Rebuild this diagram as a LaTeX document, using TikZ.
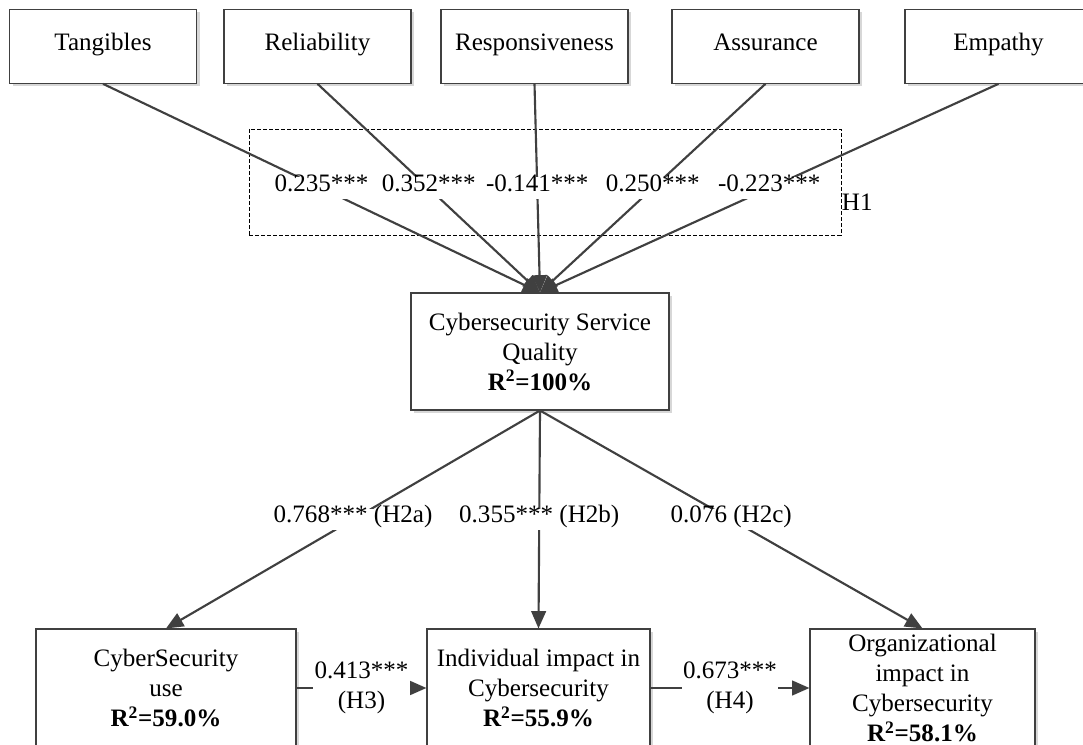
\documentclass[tikz,border=0pt]{standalone}
\usepackage{fontspec}
\setmainfont{Liberation Serif}
\usetikzlibrary{arrows.meta}

\definecolor{linegray}{RGB}{64,64,64}
\definecolor{shadowgray}{RGB}{215,215,215}

\tikzset{every picture/.style={line width=0.75pt}}
\tikzset{
  factor/.style={draw=linegray, fill=white, line width=0.8pt, align=center, inner sep=2pt,
    preaction={draw=none, fill=shadowgray, transform canvas={xshift=2.25pt, yshift=-2.25pt}}},
  dimbox/.style={factor, minimum width=140.25pt, minimum height=55.5pt, text height=0.8em, text depth=0.2em},
  outcome/.style={factor, minimum height=88.5pt},
  link/.style={draw=linegray, line width=1.6pt, -{Triangle[length=13pt, width=11pt]}},
  coef/.style={fill=white, align=center, text height=0.7em, text depth=0.2em, inner xsep=1pt, inner ysep=3.5pt}
}

\begin{document}
\begin{tikzpicture}[x=0.75pt,y=0.75pt,yscale=-1,xscale=1, font=\fontsize{18.8}{22.5}\selectfont]
\useasboundingbox (0,0) rectangle (1083,745);

%Shape: Rectangle (dashed frame of H1)
\node [draw, dash pattern=on 3pt off 1.5pt, line width=0.6pt, inner sep=0, minimum width=444pt, minimum height=79.5pt] (h1box) at (545,182) {};
% Text Node
\node [anchor=west, inner sep=0] (h1) at ([shift={(0,20)}]h1box.east) {H1};

%Shape: Rectangle
\node [dimbox] (tang) at (103,46.3) {Tangibles};
%Shape: Rectangle
\node [dimbox] (reli) at (317.5,46.3) {Reliability};
%Shape: Rectangle
\node [dimbox] (resp) at (534.5,46.3) {Responsiveness};
%Shape: Rectangle
\node [dimbox] (assu) at (765.5,46.3) {Assurance};
%Shape: Rectangle
\node [dimbox] (empa) at (998.5,46.3) {Empathy};

%Shape: Rectangle
\node [factor, minimum width=193.5pt, minimum height=87.75pt] (csq) at (540,351.5) {Cybersecurity Service\\Quality\\\textbf{R\textsuperscript{2}=100\%}};

%Shape: Rectangle
\node [outcome, minimum width=195pt] (use) at (166,688) {CyberSecurity\\use\\\textbf{R\textsuperscript{2}=59.0\%}};
%Shape: Rectangle
\node [outcome, minimum width=167.25pt] (indiv) at (538.5,688) {Individual impact in\\Cybersecurity\\\textbf{R\textsuperscript{2}=55.9\%}};
%Shape: Rectangle
\node [outcome, minimum width=168.75pt] (org) at (922.5,688) {Organizational\\impact in\\Cybersecurity\\\textbf{R\textsuperscript{2}=58.1\%}};

%Straight Lines
\draw [link] (tang.south) -- node [coef] {0.235***} (csq.north);
\draw [link] (reli.south) -- node [coef] {0.352***} (csq.north);
\draw [link] (resp.south) -- node [coef] {-0.141***} (csq.north);
\draw [link] (assu.south) -- node [coef] {0.250***} (csq.north);
\draw [link] (empa.south) -- node [coef] {-0.223***} (csq.north);

%Straight Lines
\draw [link] (csq.south) -- node [coef] {0.768*** (H2a)} (use.north);
\draw [link] (csq.south) -- node [coef] {0.355*** (H2b)} (indiv.north);
\draw [link] (csq.south) -- node [coef] {0.076 (H2c)} (org.north);

%Straight Lines
\draw [link] (use.east) -- node [coef, text height=, text depth=] {0.413***\\(H3)} (indiv.west);
\draw [link] (indiv.east) -- node [coef, text height=, text depth=] {0.673***\\(H4)} (org.west);

\end{tikzpicture}
\end{document}
